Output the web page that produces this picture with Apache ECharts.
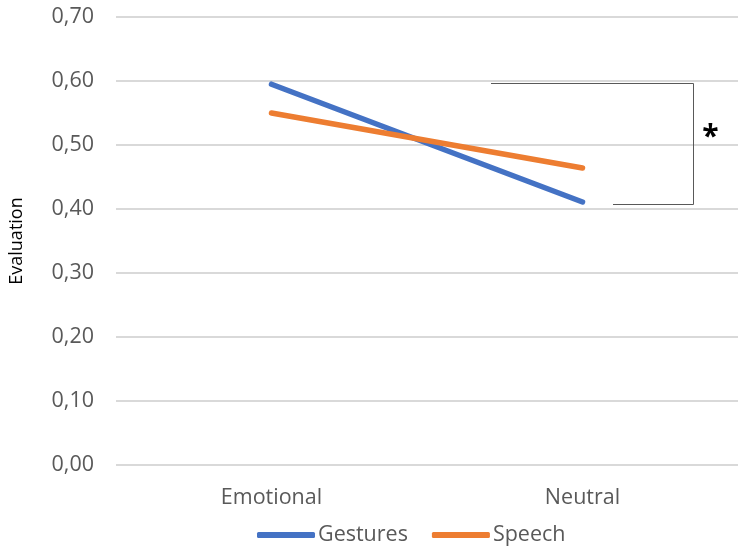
<!DOCTYPE html>
<html>
<head>
<meta charset="utf-8">
<script src="https://cdn.jsdelivr.net/npm/echarts@6/dist/echarts.min.js"></script>
<style>
  html, body { margin: 0; padding: 0; background: #fff; }
  #chart { width: 738px; height: 551px; }
</style>
</head>
<body>
<div id="chart"></div>
<script>
// Categories and mean evaluations per condition
const categories = ['Emotional', 'Neutral'];
const gestures = [0.595, 0.411];
const speech = [0.550, 0.464];
const yTicks = [0, 0.7, 0.1];           // min, max, interval
// Significance bracket spans these two values
const bracketValues = [0.597, 0.408];

const font = '"Open Sans", "Noto Sans", sans-serif';
const chart = echarts.init(document.getElementById('chart'));

chart.setOption({
  animation: false,
  textStyle: { fontFamily: font },
  grid: { left: 115, right: -3, top: 17, bottom: 86 },
  xAxis: {
    type: 'category',
    data: categories,
    boundaryGap: true,
    axisLine: { show: false },
    axisTick: { show: false },
    axisLabel: { color: '#595959', fontSize: 21.5, margin: 22, fontFamily: font }
  },
  yAxis: {
    type: 'value',
    min: yTicks[0], max: yTicks[1], interval: yTicks[2],
    name: 'Evaluation',
    nameLocation: 'middle',
    nameGap: 90,
    nameRotate: 90,
    nameTextStyle: { color: '#000', fontSize: 18, fontFamily: font },
    axisLine: { show: false },
    axisTick: { show: false },
    splitLine: { lineStyle: { color: '#d9d9d9', width: 2 } },
    axisLabel: {
      color: '#595959', fontSize: 21.5, margin: 22, fontFamily: font,
      formatter: v => v.toFixed(2).replace('.', ',')
    }
  },
  legend: {
    top: 519,
    left: 252,
    itemWidth: 58,
    itemHeight: 6,
    itemGap: 24,
    icon: 'roundRect',
    textStyle: { color: '#595959', fontSize: 21.5, fontFamily: font, padding: [0, 0, 0, -2] },
    data: ['Gestures', 'Speech']
  },
  series: [
    {
      name: 'Gestures', type: 'line', data: gestures,
      showSymbol: false, symbol: 'none',
      lineStyle: { color: '#4472C4', width: 5.5, cap: 'round' },
      itemStyle: { color: '#4472C4' }
    },
    {
      name: 'Speech', type: 'line', data: speech,
      showSymbol: false, symbol: 'none',
      lineStyle: { color: '#ED7D31', width: 5.5, cap: 'round' },
      itemStyle: { color: '#ED7D31' }
    }
  ]
});

// Significance bracket placed through the axis scales
function drawBracket() {
  const top = chart.convertToPixel({ gridIndex: 0 }, [0, bracketValues[0]]);
  const bot = chart.convertToPixel({ gridIndex: 0 }, [0, bracketValues[1]]);
  const neutralX = chart.convertToPixel({ xAxisIndex: 0 }, categories[1]);
  const yTop = Math.round(top[1]) + 0.5;
  const yBot = Math.round(bot[1]) + 0.5;
  const xR = Math.round(neutralX + 110) + 0.5;
  const xTopL = Math.round(neutralX - 92);
  const xBotL = Math.round(neutralX + 30);
  chart.setOption({
    graphic: [
      {
        type: 'polyline', silent: true,
        shape: { points: [[xTopL, yTop], [xR, yTop], [xR, yBot], [xBotL, yBot]] },
        style: { stroke: '#595959', lineWidth: 1, fill: null }
      },
      {
        type: 'text', silent: true,
        x: xR + 17, y: (yTop + yBot) / 2 - 7,
        style: { text: '*', fontSize: 30, fontWeight: 'bold', fill: '#000',
                 fontFamily: font, align: 'center', verticalAlign: 'middle' }
      }
    ]
  });
}
drawBracket();
</script>
</body>
</html>
